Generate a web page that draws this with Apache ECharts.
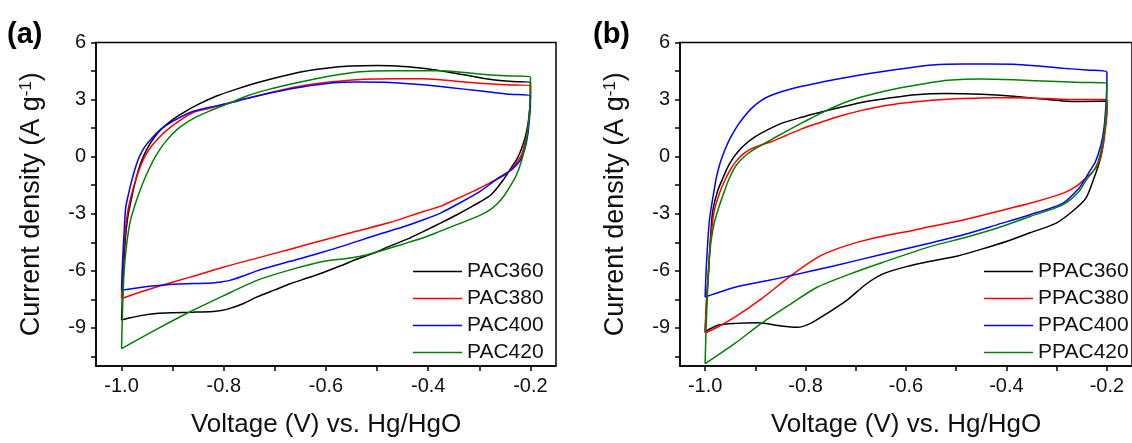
<!DOCTYPE html>
<html>
<head>
<meta charset="utf-8">
<script src="https://cdn.jsdelivr.net/npm/echarts@6/dist/echarts.min.js"></script>
<style>
  html, body { margin: 0; padding: 0; background: #ffffff; }
  #main { width: 1132px; height: 443px; }
</style>
</head>
<body>
<div id="main"></div>
<script>
// ---- data (voltage V, current density A/g) ----
const namesA = ["PAC360", "PAC380", "PAC400", "PAC420"];
const namesB = ["PPAC360", "PPAC380", "PPAC400", "PPAC420"];
const colors = ["#000000", "#ff0000", "#0000ff", "#008000"];

const xTicks = [-1.0, -0.9, -0.8, -0.7, -0.6, -0.5, -0.4, -0.3, -0.2];
const xLabels = [-1.0, -0.8, -0.6, -0.4, -0.2];
const yTicks = [-10.5, -9, -7.5, -6, -4.5, -3, -1.5, 0, 1.5, 3, 4.5, 6];
const yLabels = [-9, -6, -3, 0, 3, 6];

// panel (a): anodic sweep from -1.0 V to -0.2 V, then cathodic sweep back
const pac360 = [
  [-1.0,-8.58],[-0.997,-6.5],[-0.993,-4.5],[-0.988,-3.2],[-0.981,-2.25],[-0.973,-1.3],[-0.964,-0.45],
  [-0.955,0.15],[-0.945,0.65],[-0.935,1.05],[-0.922,1.46],[-0.9,1.95],[-0.879,2.32],[-0.85,2.75],
  [-0.814,3.19],[-0.775,3.55],[-0.735,3.88],[-0.69,4.2],[-0.644,4.48],[-0.6,4.65],[-0.552,4.76],[-0.5,4.79],
  [-0.474,4.78],[-0.43,4.7],[-0.382,4.54],[-0.33,4.3],[-0.277,4.05],[-0.235,3.95],[-0.2,3.91],
  [-0.2,3.3],[-0.202,2.32],[-0.207,1.4],[-0.215,0.6],[-0.226,-0.1],[-0.238,-0.6],[-0.251,-1.14],[-0.277,-2.0],
  [-0.31,-2.55],[-0.343,-3.04],[-0.375,-3.48],[-0.408,-3.91],[-0.44,-4.32],[-0.474,-4.69],[-0.505,-5.05],
  [-0.539,-5.38],[-0.57,-5.72],[-0.604,-6.07],[-0.637,-6.38],[-0.67,-6.68],[-0.7,-7.0],[-0.735,-7.37],
  [-0.76,-7.7],[-0.788,-7.97],[-0.805,-8.08],[-0.821,-8.13],[-0.86,-8.17],[-0.9,-8.2],[-0.932,-8.24],
  [-0.96,-8.34],[-0.985,-8.48],[-1.0,-8.58]
];
const pac380 = [
  [-1.0,-7.46],[-0.997,-5.5],[-0.993,-4.0],[-0.988,-2.9],[-0.981,-2.05],[-0.972,-1.2],[-0.963,-0.5],
  [-0.953,0.08],[-0.94,0.6],[-0.925,1.05],[-0.91,1.42],[-0.89,1.83],[-0.86,2.32],[-0.827,2.55],[-0.8,2.75],
  [-0.77,2.97],[-0.735,3.19],[-0.7,3.42],[-0.66,3.66],[-0.605,3.88],[-0.56,4.0],[-0.526,4.07],[-0.47,4.1],
  [-0.408,4.09],[-0.35,3.98],[-0.3,3.86],[-0.25,3.78],[-0.2,3.74],
  [-0.2,3.19],[-0.202,2.3],[-0.205,1.46],[-0.211,0.7],[-0.218,0.07],[-0.235,-0.6],[-0.251,-0.97],
  [-0.274,-1.3],[-0.31,-1.8],[-0.343,-2.2],[-0.375,-2.6],[-0.408,-2.87],[-0.44,-3.15],[-0.474,-3.45],
  [-0.539,-3.91],[-0.604,-4.38],[-0.67,-4.86],[-0.735,-5.33],[-0.801,-5.81],[-0.866,-6.33],[-0.932,-6.85],
  [-0.97,-7.18],[-1.0,-7.46]
];
const pac400 = [
  [-1.0,-7.02],[-0.998,-5.5],[-0.995,-4.0],[-0.992,-2.7],[-0.985,-1.8],[-0.979,-1.14],[-0.972,-0.5],
  [-0.965,0.0],[-0.955,0.5],[-0.94,1.0],[-0.922,1.46],[-0.9,1.85],[-0.866,2.32],[-0.827,2.6],[-0.8,2.75],
  [-0.77,2.95],[-0.735,3.19],[-0.7,3.4],[-0.65,3.65],[-0.585,3.88],[-0.539,3.92],[-0.474,3.9],[-0.43,3.82],
  [-0.38,3.7],[-0.33,3.55],[-0.28,3.4],[-0.24,3.28],[-0.2,3.19],
  [-0.2,2.7],[-0.202,2.0],[-0.205,1.2],[-0.211,0.4],[-0.22,-0.2],[-0.235,-0.65],[-0.252,-0.95],[-0.267,-1.2],
  [-0.3,-1.85],[-0.343,-2.5],[-0.375,-2.95],[-0.408,-3.3],[-0.45,-3.7],[-0.493,-4.05],[-0.539,-4.45],
  [-0.604,-5.0],[-0.67,-5.5],[-0.735,-6.0],[-0.765,-6.3],[-0.788,-6.5],[-0.81,-6.6],[-0.821,-6.64],
  [-0.86,-6.67],[-0.899,-6.7],[-0.94,-6.8],[-0.97,-6.9],[-1.0,-7.02]
];
const pac420 = [
  [-1.0,-10.09],[-0.998,-8.0],[-0.995,-6.0],[-0.99,-4.6],[-0.983,-3.4],[-0.972,-2.4],[-0.96,-1.5],
  [-0.948,-0.75],[-0.935,-0.05],[-0.915,0.75],[-0.89,1.46],[-0.86,2.0],[-0.827,2.41],[-0.79,2.8],
  [-0.755,3.19],[-0.71,3.55],[-0.657,3.88],[-0.6,4.2],[-0.539,4.45],[-0.47,4.52],[-0.375,4.52],[-0.3,4.35],
  [-0.25,4.25],[-0.2,4.19],
  [-0.2,3.19],[-0.202,2.3],[-0.205,1.46],[-0.21,0.6],[-0.218,-0.27],[-0.228,-1.0],[-0.238,-1.48],[-0.25,-2.0],
  [-0.264,-2.45],[-0.277,-2.75],[-0.3,-3.1],[-0.343,-3.56],[-0.375,-3.9],[-0.408,-4.25],[-0.45,-4.6],
  [-0.519,-5.15],[-0.56,-5.35],[-0.604,-5.5],[-0.67,-5.95],[-0.735,-6.5],[-0.8,-7.3],[-0.866,-8.15],
  [-0.93,-9.05],[-1.0,-10.09]
];

// panel (b)
const ppac360 = [
  [-1.0,-9.19],[-0.997,-7.5],[-0.993,-6.0],[-0.99,-4.6],[-0.985,-2.88],[-0.975,-1.8],[-0.965,-1.15],
  [-0.955,-0.55],[-0.945,-0.1],[-0.935,0.25],[-0.92,0.65],[-0.9,1.05],[-0.875,1.42],[-0.848,1.75],
  [-0.81,2.06],[-0.776,2.3],[-0.73,2.6],[-0.679,2.9],[-0.63,3.1],[-0.581,3.26],[-0.522,3.32],[-0.45,3.28],
  [-0.386,3.18],[-0.34,3.06],[-0.288,2.93],[-0.25,2.9],[-0.2,2.92],
  [-0.2,2.5],[-0.201,2.0],[-0.204,1.45],[-0.208,0.6],[-0.215,-0.3],[-0.226,-1.15],[-0.242,-2.19],
  [-0.269,-2.88],[-0.301,-3.49],[-0.353,-4.0],[-0.399,-4.44],[-0.451,-4.87],[-0.497,-5.22],[-0.549,-5.48],
  [-0.601,-5.79],[-0.647,-6.17],[-0.679,-6.69],[-0.718,-7.55],[-0.758,-8.25],[-0.79,-8.76],[-0.816,-8.97],
  [-0.849,-8.9],[-0.894,-8.73],[-0.94,-8.76],[-0.973,-8.85],[-1.0,-9.19]
];
const ppac380 = [
  [-1.0,-9.27],[-0.997,-7.5],[-0.993,-5.8],[-0.99,-4.61],[-0.982,-2.88],[-0.971,-1.9],[-0.959,-1.15],
  [-0.95,-0.7],[-0.94,-0.3],[-0.925,0.12],[-0.91,0.38],[-0.89,0.6],[-0.867,0.8],[-0.84,1.1],[-0.809,1.45],
  [-0.77,1.8],[-0.731,2.14],[-0.69,2.42],[-0.646,2.66],[-0.6,2.83],[-0.548,2.97],[-0.5,3.05],[-0.45,3.09],
  [-0.4,3.1],[-0.353,3.09],[-0.288,3.02],[-0.25,3.0],[-0.2,3.0],
  [-0.2,2.6],[-0.201,2.0],[-0.203,1.45],[-0.206,0.8],[-0.212,0.0],[-0.222,-0.6],[-0.243,-1.15],
  [-0.262,-1.58],[-0.288,-1.93],[-0.353,-2.45],[-0.418,-2.88],[-0.484,-3.31],[-0.549,-3.66],[-0.6,-3.95],
  [-0.647,-4.18],[-0.69,-4.45],[-0.731,-4.78],[-0.777,-5.3],[-0.829,-6.25],[-0.888,-7.47],[-0.94,-8.42],
  [-0.975,-8.95],[-1.0,-9.27]
];
const ppac400 = [
  [-1.0,-7.37],[-0.998,-6.0],[-0.995,-4.61],[-0.992,-3.5],[-0.988,-2.71],[-0.981,-1.6],[-0.978,-1.15],
  [-0.972,-0.5],[-0.965,0.06],[-0.958,0.52],[-0.951,0.92],[-0.943,1.3],[-0.933,1.72],[-0.92,2.18],
  [-0.906,2.58],[-0.89,2.92],[-0.874,3.16],[-0.85,3.4],[-0.822,3.61],[-0.78,3.85],[-0.744,4.04],[-0.7,4.25],
  [-0.646,4.48],[-0.6,4.65],[-0.548,4.82],[-0.483,4.87],[-0.386,4.86],[-0.33,4.75],[-0.288,4.65],
  [-0.24,4.55],[-0.2,4.44],
  [-0.2,3.9],[-0.201,3.18],[-0.203,2.3],[-0.206,1.45],[-0.212,0.6],[-0.223,-0.28],[-0.235,-0.8],
  [-0.243,-1.15],[-0.256,-1.67],[-0.288,-2.45],[-0.353,-3.05],[-0.418,-3.57],[-0.484,-4.09],[-0.549,-4.52],
  [-0.647,-5.13],[-0.744,-5.74],[-0.829,-6.25],[-0.875,-6.51],[-0.94,-6.86],[-1.0,-7.37]
];
const ppac420 = [
  [-1.0,-10.88],[-0.998,-9.0],[-0.995,-7.0],[-0.992,-5.5],[-0.989,-4.61],[-0.982,-3.5],[-0.972,-2.6],
  [-0.962,-1.85],[-0.952,-1.15],[-0.938,-0.45],[-0.92,0.05],[-0.9,0.42],[-0.88,0.72],[-0.86,1.02],
  [-0.835,1.38],[-0.809,1.75],[-0.785,2.08],[-0.763,2.37],[-0.735,2.7],[-0.705,3.0],[-0.66,3.33],
  [-0.613,3.61],[-0.56,3.85],[-0.516,4.01],[-0.45,4.08],[-0.386,4.04],[-0.3,3.95],[-0.25,3.9],[-0.2,3.87],
  [-0.2,3.3],[-0.201,2.6],[-0.203,1.9],[-0.205,1.3],[-0.21,0.5],[-0.218,-0.3],[-0.228,-0.8],[-0.239,-1.15],
  [-0.256,-1.84],[-0.288,-2.53],[-0.353,-3.14],[-0.418,-3.75],[-0.484,-4.26],[-0.549,-4.7],[-0.647,-5.56],
  [-0.712,-6.17],[-0.777,-6.86],[-0.829,-7.73],[-0.888,-8.76],[-0.94,-9.8],[-1.0,-10.88]
];

const loopsA = [pac360, pac380, pac400, pac420];
const loopsB = [ppac360, ppac380, ppac400, ppac420];

// ---- chart ----
const FONT = "Liberation Sans, Arial, Helvetica, sans-serif";
let myChart = echarts.init(document.getElementById("main"));

function makeX(gi) {
  return {
    gridIndex: gi,
    type: "value",
    min: -1.05,
    max: -0.15,
    name: "Voltage (V) vs. Hg/HgO",
    nameLocation: "middle",
    nameGap: 46,
    nameTextStyle: { fontSize: 26, color: "#111", fontFamily: FONT },
    axisLine: { show: true, onZero: false, lineStyle: { color: "#000", width: 1.5 } },
    axisTick: { show: true, length: 5, customValues: xTicks, lineStyle: { color: "#000", width: 1.5 } },
    axisLabel: {
      customValues: xLabels,
      margin: 10,
      fontSize: 20,
      color: "#111",
      fontFamily: FONT,
      formatter: (v) => v.toFixed(1),
    },
    splitLine: { show: false },
  };
}

function makeY(gi) {
  return {
    gridIndex: gi,
    type: "value",
    min: -11,
    max: 6,
    name: "Current density (A g{sup|-1})",
    nameLocation: "middle",
    nameGap: 51,
    nameTextStyle: {
      fontSize: 27,
      color: "#111",
      fontFamily: FONT,
      rich: { sup: { fontSize: 17, verticalAlign: "top", color: "#111", fontFamily: FONT } },
    },
    axisLine: { show: true, onZero: false, lineStyle: { color: "#000", width: 1.5 } },
    axisTick: { show: true, length: 5, customValues: yTicks, lineStyle: { color: "#000", width: 1.5 } },
    axisLabel: { customValues: yLabels, margin: 10, fontSize: 20, color: "#111", fontFamily: FONT },
    splitLine: { show: false },
  };
}

function makeLegend(names, left) {
  return {
    data: names,
    orient: "vertical",
    left: left,
    top: 261,
    padding: 0,
    icon: "rect",
    itemWidth: 49,
    itemHeight: 1.6,
    itemGap: 6,
    textStyle: { fontSize: 21, lineHeight: 21, color: "#111", fontFamily: FONT },
  };
}

let series = [];
loopsA.forEach((d, i) => {
  series.push({
    name: namesA[i], type: "line", xAxisIndex: 0, yAxisIndex: 0, data: d,
    symbol: "none", smooth: 0.25, color: colors[i], lineStyle: { width: 1.5 },
  });
});
loopsB.forEach((d, i) => {
  series.push({
    name: namesB[i], type: "line", xAxisIndex: 1, yAxisIndex: 1, data: d,
    symbol: "none", smooth: 0.25, color: colors[i], lineStyle: { width: 1.5 },
  });
});

let options = {
  animation: false,
  backgroundColor: "#ffffff",
  grid: [
    { left: 96, top: 42.5, width: 460, height: 327.5, show: true, borderColor: "#000", borderWidth: 1.5 },
    { left: 680, top: 42.5, width: 461, height: 327.5, show: true, borderColor: "#000", borderWidth: 1.5 },
  ],
  xAxis: [makeX(0), makeX(1)],
  yAxis: [makeY(0), makeY(1)],
  legend: [makeLegend(namesA, 413), makeLegend(namesB, 984)],
  graphic: [
    { type: "text", left: 7, top: 20, style: { text: "(a)", font: "bold 29px " + FONT, fill: "#000" } },
    { type: "text", left: 593, top: 20, style: { text: "(b)", font: "bold 29px " + FONT, fill: "#000" } },
  ],
  series: series,
};
myChart.setOption(options);
</script>
</body>
</html>
